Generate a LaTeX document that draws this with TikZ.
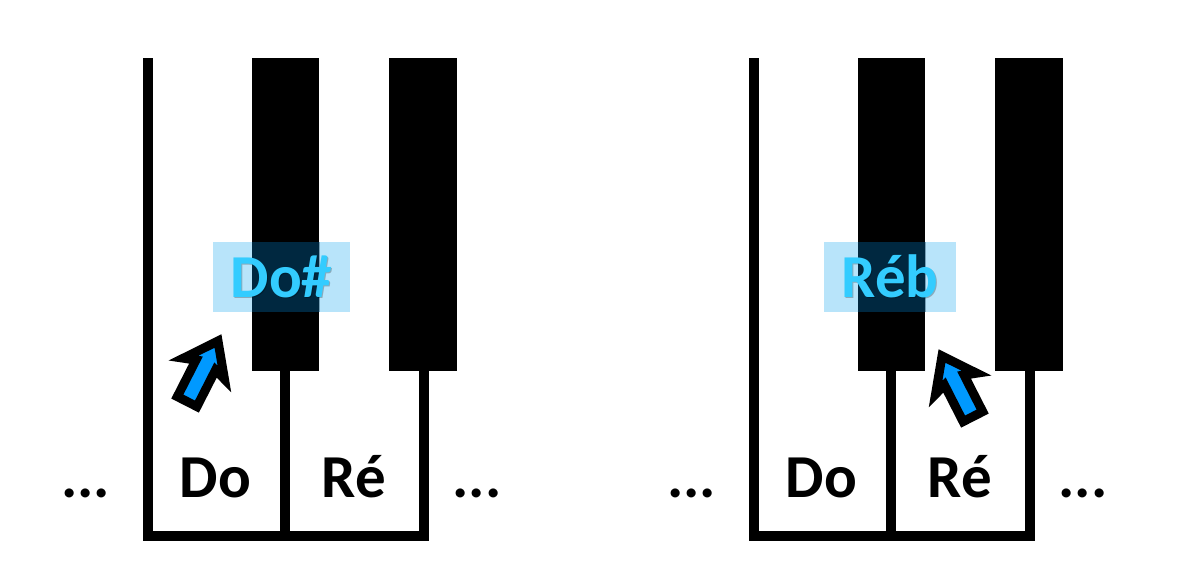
\documentclass[tikz,border=0pt]{standalone}
\usepackage{fontspec}
\setmainfont{Carlito}
\usepackage{xcolor}
\usepackage{tikz}
\usetikzlibrary{positioning}

\definecolor{keyblue}{RGB}{0,153,255}
\definecolor{labcyan}{RGB}{51,204,255}
\definecolor{boxlight}{RGB}{184,228,250}
\definecolor{boxdark}{RGB}{0,40,64}

\tikzset{
    keyline/.style={line width=10pt, line join=miter},
    blackkey/.style={fill=black, inner sep=0pt, minimum width=67pt, minimum height=313pt, anchor=north west},
    notename/.style={font=\fontsize{61}{72}\selectfont\bfseries, anchor=base, inner sep=0pt},
    labelbox/.style={fill=boxlight, inner sep=0pt, minimum height=70pt},
    labeltext/.style={font=\fontsize{61}{72}\selectfont\bfseries, text=labcyan, anchor=base, inner sep=0pt},
    labelshadow/.style={labeltext, text=black, opacity=0.25},
    pointer/.pic={
        \filldraw[fill=keyblue, draw=black, line width=9pt, line join=miter]
            (0,0) -- (23,31) -- (11,27) -- (11,68) -- (-11,68) -- (-11,27) -- (-23,31) -- cycle;
    }
}

\begin{document}
\begin{tikzpicture}[x=1pt, y=-1pt]
    \useasboundingbox (0,0) rectangle (1182,570);
    \foreach \k/\ox in {a/0, b/606} {
        % white keys
        \draw[keyline] (148+\ox,58) |- (423.5+\ox,536) -- (423.5+\ox,371);
        \draw[keyline] (285+\ox,371) -- (285+\ox,536);
        % black keys
        \node[blackkey] (\k1) at (252+\ox,58) {};
        \node[blackkey, minimum width=68pt] (\k2) at (389+\ox,58) {};
        \node[notename] (\k do) at (215.5+\ox,497) {Do};
        \node[notename] (\k re) at (354+\ox,497) {Ré};
        \node[notename] (\k left) at (85.5+\ox,497) {...};
        \node[notename] (\k right) at (477+\ox,497) {...};
    }
    % Do#
    \node[labelbox, minimum width=137pt] (sharpbox) at (281.5,277) {};
    \begin{scope}
        \clip (a1.south west) rectangle (a1.north east);
        \fill[boxdark] (sharpbox.south west) rectangle (sharpbox.north east);
    \end{scope}
    \node[labelshadow] at ([xshift=1pt, yshift=-21pt]sharpbox.center) {Do\#};
    \node[labeltext] (sharp) at ([yshift=-20pt]sharpbox.center) {Do\#};
    \pic[rotate=-27] at (218,341) {pointer};
    % Réb
    \node[labelbox, minimum width=132pt] (flatbox) at (890,277) {};
    \begin{scope}
        \clip (b1.south west) rectangle (b1.north east);
        \fill[boxdark] (flatbox.south west) rectangle (flatbox.north east);
    \end{scope}
    \node[labelshadow] at ([xshift=1pt, yshift=-21pt]flatbox.center) {Réb};
    \node[labeltext] (flat) at ([yshift=-20pt]flatbox.center) {Réb};
    \pic[rotate=27] at (942,356) {pointer};
\end{tikzpicture}
\end{document}
